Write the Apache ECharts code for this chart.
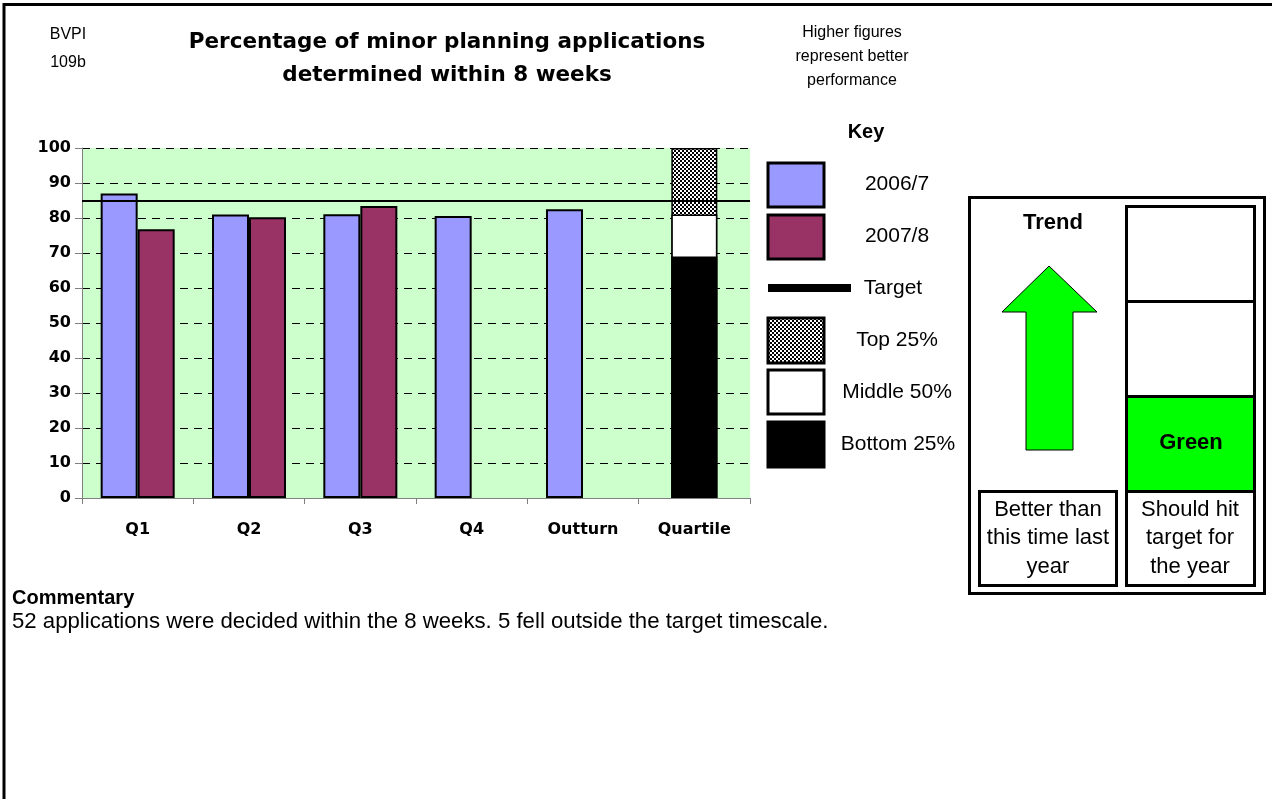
<!DOCTYPE html>
<html>
<head>
<meta charset="utf-8">
<script src="https://cdn.jsdelivr.net/npm/echarts@6/dist/echarts.min.js"></script>
<style>
html,body{margin:0;padding:0;background:#fff;}
#chart{width:1272px;height:799px;}
</style>
</head>
<body>
<div id="chart"></div>
<script>
// ---- data ----
var categories = ['Q1', 'Q2', 'Q3', 'Q4', 'Outturn', 'Quartile'];
var series2006 = [87, 81, 81.1, 80.6, 82.5, null];
var series2007 = [76.8, 80.2, 83.4, null, null, null];
var targetValue = 85;
var quartileTop = [null, null, null, null, null, 100];
var quartileMiddle = [null, null, null, null, null, 81];
var quartileBottom = [null, null, null, null, null, 69];
var yTicks = [0, 100, 10]; // min, max, interval

// ---- pattern ----
function checker() {
  var c = document.createElement('canvas');
  c.width = 4; c.height = 4;
  var g = c.getContext('2d');
  g.fillStyle = '#fff'; g.fillRect(0, 0, 4, 4);
  g.fillStyle = '#000';
  g.fillRect(0, 0, 2, 2); g.fillRect(2, 2, 2, 2);
  return c;
}
var pat = { image: checker(), repeat: 'repeat' };

var FONT = '"Liberation Sans", Arial, sans-serif';
var WIDE = '"DejaVu Sans", "Liberation Sans", sans-serif';
var chart = echarts.init(document.getElementById('chart'), null, { renderer: 'canvas' });

function txt(x, y, text, size, bold, align, fam) {
  return { type: 'text', x: x, y: y, style: { text: text, font: (bold ? 'bold ' : '') + size + 'px ' + (fam || FONT), fill: '#000', align: align || 'center', verticalAlign: 'middle' } };
}
function rect(x, y, w, h, fill, lw) {
  return { type: 'rect', shape: { x: x, y: y, width: w, height: h }, style: { fill: fill, stroke: '#000', lineWidth: lw == null ? 3 : lw } };
}

var graphics = [
  // page border
  { type: 'line', shape: { x1: 3, y1: 4.5, x2: 1272, y2: 4.5 }, style: { stroke: '#000', lineWidth: 3 } },
  { type: 'line', shape: { x1: 4, y1: 3, x2: 4, y2: 799 }, style: { stroke: '#000', lineWidth: 3 } },
  // header
  txt(68, 35, 'BVPI', 16, false),
  txt(68, 63, '109b', 16, false),
  txt(447, 42, 'Percentage of minor planning applications', 21.5, true, 'center', WIDE),
  txt(447, 75, 'determined within 8 weeks', 21.5, true, 'center', WIDE),
  txt(852, 33, 'Higher figures', 16, false),
  txt(852, 57, 'represent better', 16, false),
  txt(852, 81, 'performance', 16, false),
  // key
  txt(866, 132, 'Key', 20, true),
  rect(768, 163, 56, 44, '#9999FF'),
  txt(897, 184, '2006/7', 21, false),
  rect(768, 215, 56, 44, '#993366'),
  txt(897, 236, '2007/8', 21, false),
  { type: 'rect', shape: { x: 768, y: 284, width: 83, height: 8 }, style: { fill: '#000' } },
  txt(893, 288, 'Target', 21, false),
  rect(768, 318, 56, 45, pat),
  txt(897, 340, 'Top 25%', 21, false),
  rect(768, 370, 56, 44, '#fff'),
  txt(897, 392, 'Middle 50%', 21, false),
  rect(768, 422, 56, 45, '#000'),
  txt(898, 444, 'Bottom 25%', 21, false),
  // commentary
  txt(12, 598, 'Commentary', 20, true, 'left'),
  txt(12, 622, '52 applications were decided within the 8 weeks. 5 fell outside the target timescale.', 22.2, false, 'left'),
  // trend panel
  rect(969.5, 197.5, 295, 396, '#fff', 3),
  rect(1126.5, 206.5, 128, 95, '#fff', 3),
  rect(1126.5, 301.5, 128, 95, '#fff', 3),
  rect(1126.5, 396.5, 128, 95, '#00FF00', 3),
  rect(1126.5, 491.5, 128, 94, '#fff', 3),
  rect(979.5, 491.5, 137, 94, '#fff', 3),
  txt(1053, 223, 'Trend', 22, true),
  { type: 'polygon', shape: { points: [[1049, 266], [1097, 312], [1073, 312], [1073, 450], [1026, 450], [1026, 312], [1002, 312]] }, style: { fill: '#00FF00', stroke: '#000', lineWidth: 1 } },
  txt(1191, 443, 'Green', 22, true),
  txt(1048, 510, 'Better than', 22, false),
  txt(1048, 538, 'this time last', 22, false),
  txt(1048, 567, 'year', 22, false),
  txt(1190, 510, 'Should hit', 22, false),
  txt(1190, 538, 'target for', 22, false),
  txt(1190, 567, 'the year', 22, false)
];

var option = {
  backgroundColor: '#fff',
  animation: false,
  grid: { left: 82, right: 522, top: 148, bottom: 301, show: true, backgroundColor: '#CCFFCC', borderWidth: 0 },
  xAxis: [
    {
      type: 'category', data: categories,
      axisLine: { lineStyle: { color: '#808080', width: 1 } },
      axisTick: { show: true, length: 6, lineStyle: { color: '#808080' } },
      axisLabel: { margin: 24, fontFamily: WIDE, fontWeight: 'bold', fontSize: 16, color: '#000' }
    },
    { type: 'category', data: categories, show: false, position: 'bottom' }
  ],
  yAxis: {
    type: 'value', min: yTicks[0], max: yTicks[1], interval: yTicks[2],
    axisLine: { show: true, lineStyle: { color: '#808080', width: 1 } },
    axisTick: { show: true, length: 7, lineStyle: { color: '#808080' } },
    axisLabel: { margin: 11, fontFamily: WIDE, fontWeight: 'bold', fontSize: 16, color: '#000' },
    splitLine: { show: true, lineStyle: { color: '#000', type: [8, 6], width: 1 } }
  },
  graphic: graphics,
  series: [
    {
      name: '2006/7', type: 'bar', xAxisIndex: 0, data: series2006, barWidth: 37, barGap: '0%',
      itemStyle: { color: '#9999FF', borderColor: '#000', borderWidth: 2 },
      markLine: {
        silent: true, symbol: ['none', 'none'], label: { show: false },
        lineStyle: { color: '#000', width: 2, type: 'solid' },
        data: [{ yAxis: targetValue }], z: 10
      }
    },
    {
      name: '2007/8', type: 'bar', xAxisIndex: 0, data: series2007, barWidth: 37, barGap: '0%',
      itemStyle: { color: '#993366', borderColor: '#000', borderWidth: 2 }
    },
    {
      name: 'Top 25%', type: 'bar', xAxisIndex: 1, data: quartileTop, barWidth: 46, barGap: '-100%', z: 2,
      itemStyle: { color: pat, borderColor: '#000', borderWidth: 1.5 }
    },
    {
      name: 'Middle 50%', type: 'bar', xAxisIndex: 1, data: quartileMiddle, barWidth: 46, barGap: '-100%', z: 3,
      itemStyle: { color: '#fff', borderColor: '#000', borderWidth: 1.5 }
    },
    {
      name: 'Bottom 25%', type: 'bar', xAxisIndex: 1, data: quartileBottom, barWidth: 46, barGap: '-100%', z: 4,
      itemStyle: { color: '#000', borderColor: '#000', borderWidth: 1.5 }
    }
  ]
};
chart.setOption(option);
</script>
</body>
</html>
